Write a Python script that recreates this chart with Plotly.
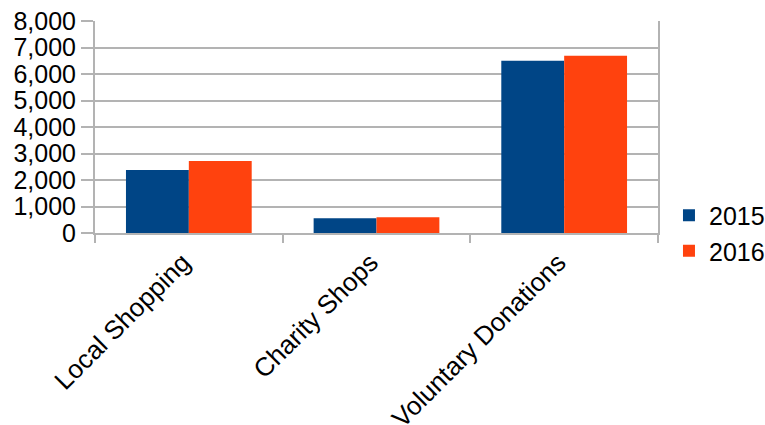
import plotly.graph_objects as go

categories = ["Local Shopping", "Charity Shops", "Voluntary Donations"]
values_2015 = [2375, 557, 6500]
values_2016 = [2715, 595, 6690]
y_ticks = [0, 1000, 2000, 3000, 4000, 5000, 6000, 7000, 8000]

FONT = "Liberation Sans, Arial, sans-serif"
GRID = "#b3b3b3"

fig = go.Figure()
fig.add_trace(go.Bar(name="2015", x=categories, y=values_2015, marker_color="#004586",
                     marker_line_width=0))
fig.add_trace(go.Bar(name="2016", x=categories, y=values_2016, marker_color="#ff420e",
                     marker_line_width=0))

fig.update_layout(
    width=765, height=425,
    margin=dict(l=95, r=107, t=21, b=192, autoexpand=False),
    paper_bgcolor="white", plot_bgcolor="white",
    barmode="group", bargap=0.33, bargroupgap=0,
    font=dict(family=FONT, size=25, color="black"),
    showlegend=True,
    legend=dict(x=1.0195, y=0.0, xanchor="left", yanchor="middle",
                font=dict(size=25), itemsizing="constant",
                tracegroupgap=0, bgcolor="rgba(0,0,0,0)"),
)

fig.update_xaxes(
    tickangle=-45, tickson="boundaries", ticks="outside", ticklen=8,
    tickcolor=GRID, tickwidth=2, showline=True, linecolor=GRID, linewidth=2,
    showgrid=False, tickfont=dict(size=26), automargin=False,
    ticklabelshift=-6, ticklabelstandoff=2,
)
fig.update_yaxes(
    range=[0, 8000], tickvals=y_ticks, tickformat=",d",
    ticks="outside", ticklen=12, tickcolor=GRID, tickwidth=2,
    showline=True, linecolor=GRID, linewidth=2, mirror=True,
    showgrid=True, gridcolor=GRID, gridwidth=2, zeroline=False,
    tickfont=dict(size=25), automargin=False,
)

fig.write_html("out.html")
